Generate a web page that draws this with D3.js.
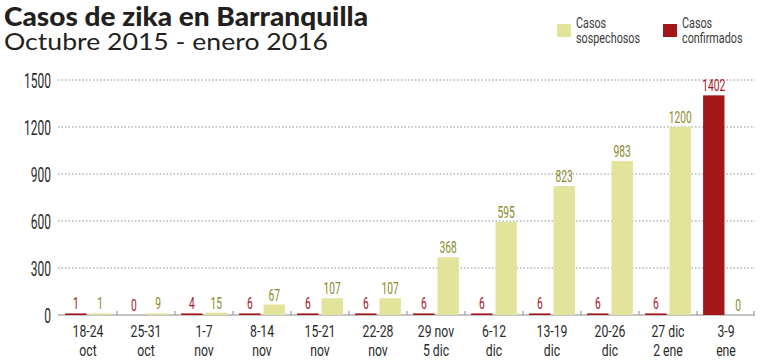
<!DOCTYPE html>
<html><head><meta charset="utf-8">
<script src="https://cdn.jsdelivr.net/npm/d3@7"></script>
<style>
body{margin:0;background:#fff;}
svg{display:block;}
</style></head>
<body><svg id="c" width="760" height="364"></svg>
<script>
const categories = [["18-24","oct"],["25-31","oct"],["1-7","nov"],["8-14","nov"],["15-21","nov"],["22-28","nov"],["29 nov","5 dic"],["6-12","dic"],["13-19","dic"],["20-26","dic"],["27 dic","2 ene"],["3-9","ene"]];
const confirmados = [1,0,4,6,6,6,6,6,6,6,6,1402];
const sospechosos = [1,9,15,67,107,107,368,595,823,983,1200,0];
const yTicks = [0,300,600,900,1200,1500];
const seriesNames = ["Casos confirmados","Casos sospechosos"];

const RED = "#a3161a", YEL = "#e3e39b", REDT = "#a3161a", YELT = "#8a8a2a";
const FONT = "Roboto, 'Liberation Sans', sans-serif";
const svg = d3.select("#c");
const keys = categories.map(c => c.join(" "));
const x = d3.scaleBand().domain(keys).range([59, 755]).paddingInner(0).paddingOuter(0);
const x1 = d3.scaleBand().domain(seriesNames).range([0, x.bandwidth()]).paddingInner(0.125).paddingOuter(0.25);
const y = d3.scaleLinear().domain([0, 1500]).range([315, 80]);

function ctext(parent, tx, ty, str, size, anchor, fill, sx) {
  return parent.append("text")
    .attr("transform", `translate(${tx},${ty}) scale(${sx},1)`)
    .attr("font-family", FONT).attr("font-weight", 400)
    .attr("font-size", size).attr("text-anchor", anchor).attr("fill", fill).text(str);
}

// title
svg.append("text").attr("x",4).attr("y",26).attr("font-family","Lato, 'DejaVu Sans', sans-serif")
  .attr("font-weight","900").attr("font-size",26.5).attr("fill","#231f20")
  .attr("textLength",364).attr("lengthAdjust","spacingAndGlyphs").text("Casos de zika en Barranquilla");
svg.append("text").attr("x",4).attr("y",50).attr("font-family","Lato, 'DejaVu Sans', sans-serif")
  .attr("font-weight","400").attr("font-size",23).attr("fill","#231f20")
  .attr("textLength",324).attr("lengthAdjust","spacingAndGlyphs").text("Octubre 2015 - enero 2016");

// legend
const leg = [{name:"sospechosos", color:YEL, x:557},{name:"confirmados", color:RED, x:663}];
leg.forEach(l => {
  svg.append("rect").attr("x",l.x).attr("y",24).attr("width",14).attr("height",13).attr("fill",l.color);
  ctext(svg, l.x+19, 28, "Casos", 15, "start", "#3a3a3a", 0.72);
  ctext(svg, l.x+19, 43, l.name, 15, "start", "#3a3a3a", 0.72);
});

// grid
const grid = svg.append("g");
yTicks.filter(d=>d>0).forEach(d=>{
  grid.append("line").attr("x1",58).attr("x2",755).attr("y1",y(d)).attr("y2",y(d))
    .attr("stroke","#8c8c8c").attr("stroke-width",1).attr("stroke-dasharray","1.5,2");
});

// y axis (ticks from d3 axis, labels condensed)
const yAxis = d3.axisLeft(y).tickValues(yTicks).tickSize(0).tickFormat(()=>"");
const ga = svg.append("g").attr("transform","translate(51,0)").call(yAxis);
ga.select(".domain").remove();
ga.selectAll(".tick").each(function(d){
  ctext(d3.select(this), 0, 7, d3.format("d")(d), 20, "end", "#2a2a2a", 0.6);
});

// baseline
svg.append("line").attr("x1",58).attr("x2",755).attr("y1",315).attr("y2",315).attr("stroke","#8a8a8a").attr("stroke-width",1.2);
// category ticks
keys.slice(1).forEach(k=>{
  svg.append("line").attr("x1",x(k)).attr("x2",x(k)).attr("y1",311).attr("y2",315).attr("stroke","#8a8a8a").attr("stroke-width",1);
});
svg.append("line").attr("x1",x.range()[1]-1).attr("x2",x.range()[1]-1).attr("y1",311).attr("y2",315).attr("stroke","#8a8a8a");

// bars
const data = keys.map((k,i)=>({k, c:confirmados[i], s:sospechosos[i]}));
const g = svg.append("g");
data.forEach(d=>{
  const series = [{n:seriesNames[0], v:d.c, col:RED, tc:REDT},{n:seriesNames[1], v:d.s, col:YEL, tc:YELT}];
  series.forEach(s=>{
    const bx = x(d.k)+x1(s.n);
    const h = Math.max(y(0)-y(s.v), s.v>0 ? 1.6 : 0);
    g.append("rect").attr("x",bx).attr("y",y(0)-h).attr("width",x1.bandwidth()).attr("height",h).attr("fill",s.col);
    ctext(g, bx+x1.bandwidth()/2, y(0)-h-4, s.v, 16, "middle", s.tc, 0.64);
  });
});

// x labels
const xl = svg.append("g");
categories.forEach((c,i)=>{
  const cx = x(keys[i]) + x.bandwidth()/2;
  ctext(xl, cx, 337, c[0], 17, "middle", "#2a2a2a", 0.72);
  ctext(xl, cx, 356, c[1], 17, "middle", "#2a2a2a", 0.72);
});
</script></body></html>
